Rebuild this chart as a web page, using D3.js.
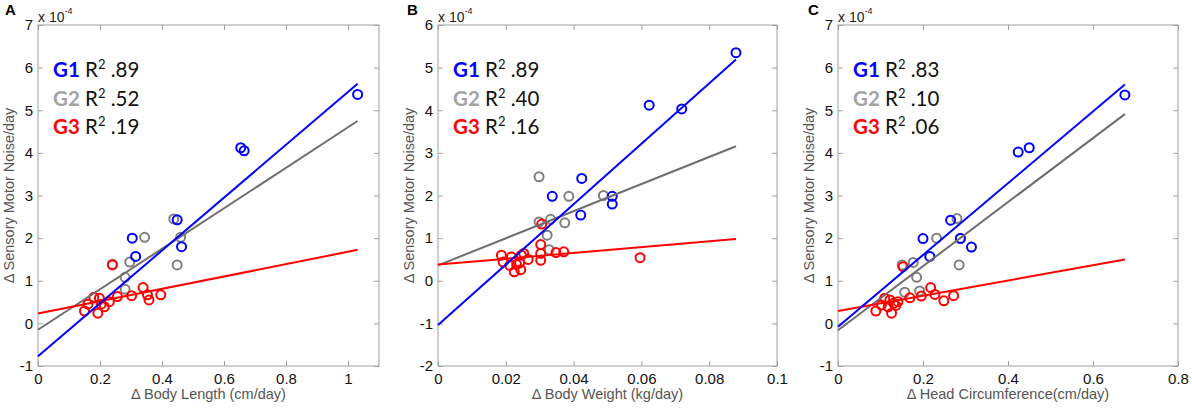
<!DOCTYPE html>
<meta charset="utf-8">
<style>
  body { margin: 0; background: #fff; }
  text { font-family: "Liberation Sans", Arial, sans-serif; }
  .legend text { font-family: Lato, "Liberation Sans", sans-serif; }
</style>
<body>
<script src="https://d3js.org/d3.v7.min.js"></script>
<script>
// ---- data (y values in units of 1e-4) ----
var groupNames = ["G1", "G2", "G3"];

// A: body length
var a_g1 = [[0.304,2.00],[0.315,1.57],[0.449,2.43],[0.463,1.80],[0.654,4.12],[0.665,4.05],[1.031,5.37]];
var a_g2 = [[0.438,2.45],[0.344,2.02],[0.460,2.02],[0.449,1.37],[0.296,1.44],[0.240,1.39],[0.281,1.08],[0.281,0.80]];
var a_g3 = [[0.240,1.37],[0.150,0.29],[0.161,0.45],[0.180,0.61],[0.193,0.24],[0.198,0.59],[0.204,0.45],[0.214,0.39],
            [0.230,0.51],[0.256,0.63],[0.302,0.65],[0.339,0.84],[0.353,0.67],[0.358,0.55],[0.396,0.67]];
var a_fit = [[-0.77, 6.20], [-0.15, 4.75], [0.23, 1.45]];   // intercept, slope
var a_r2 = [".89", ".52", ".19"];
var a_xticks = [0, 0.2, 0.4, 0.6, 0.8, 1];
var a_yticks = [-1, 0, 1, 2, 3, 4, 5, 6, 7];

// B: body weight
var b_g1 = [[0.0879,5.35],[0.0623,4.12],[0.0719,4.03],[0.0424,2.40],[0.0337,1.98],[0.0514,1.98],[0.0514,1.80],[0.0421,1.54]];
var b_g2 = [[0.0298,2.44],[0.0386,1.98],[0.0488,2.00],[0.0298,1.38],[0.0332,1.44],[0.0374,1.36],[0.0322,1.07],[0.0328,0.73]];
var b_g3 = [[0.0306,1.33],[0.0303,0.85],[0.0303,0.64],[0.0303,0.48],[0.0348,0.66],[0.0371,0.68],[0.0596,0.54],
            [0.0187,0.60],[0.0192,0.44],[0.0217,0.56],[0.0212,0.36],[0.0225,0.21],[0.0246,0.60],[0.0241,0.42],
            [0.0232,0.38],[0.0244,0.26],[0.0266,0.50],[0.0253,0.64]];
var b_fit = [[-1.04, 70.9], [0.36, 31.8], [0.38, 6.8]];
var b_r2 = [".89", ".40", ".16"];
var b_xticks = [0, 0.02, 0.04, 0.06, 0.08, 0.1];
var b_yticks = [-2, -1, 0, 1, 2, 3, 4, 5, 6];

// C: head circumference
var c_g1 = [[0.675,5.36],[0.424,4.02],[0.450,4.12],[0.200,1.99],[0.216,1.57],[0.265,2.42],[0.288,1.99],[0.314,1.79]];
var c_g2 = [[0.280,2.46],[0.232,2.00],[0.288,2.00],[0.285,1.37],[0.177,1.43],[0.151,1.37],[0.185,1.08],[0.157,0.73],[0.192,0.76]];
var c_g3 = [[0.153,1.33],[0.089,0.29],[0.102,0.43],[0.110,0.59],[0.122,0.55],[0.126,0.24],[0.118,0.39],[0.131,0.47],
            [0.141,0.51],[0.136,0.42],[0.169,0.60],[0.196,0.64],[0.218,0.84],[0.228,0.68],[0.249,0.53],[0.272,0.65]];
var c_fit = [[-0.08, 8.42], [-0.16, 7.51], [0.29, 1.79]];
var c_r2 = [".83", ".10", ".06"];
var c_xticks = [0, 0.2, 0.4, 0.6, 0.8];
var c_yticks = [-1, 0, 1, 2, 3, 4, 5, 6, 7];

// ---- styles / layout ----
var dotColors = ["#0000ff", "#808080", "#ff0000"];
var lineColors = ["#0000ff", "#6e6e6e", "#ff0000"];
var legendColors = ["#0000ff", "#a3a3a3", "#ff0000"];

var panels = [
  {letter: "A", left: 38, right: 379, xDomain: [0, 1.1], yDomain: [-1, 7],
   groups: [a_g1, a_g2, a_g3], fit: a_fit, r2: a_r2, xticks: a_xticks, yticks: a_yticks,
   xlabel: "\u0394 Body Length (cm/day)"},
  {letter: "B", left: 438, right: 777, xDomain: [0, 0.1], yDomain: [-2, 6],
   groups: [b_g1, b_g2, b_g3], fit: b_fit, r2: b_r2, xticks: b_xticks, yticks: b_yticks,
   xlabel: "\u0394 Body Weight (kg/day)"},
  {letter: "C", left: 838, right: 1178, xDomain: [0, 0.8], yDomain: [-1, 7],
   groups: [c_g1, c_g2, c_g3], fit: c_fit, r2: c_r2, xticks: c_xticks, yticks: c_yticks,
   xlabel: "\u0394 Head Circumference(cm/day)"}
];
var plotTop = 25, plotBottom = 366;

var svg = d3.select("body").append("svg")
    .attr("width", 1192)
    .attr("height", 408);

var fmt = function(v) { return d3.format("~g")(v).replace("\u2212", "-"); };

panels.forEach(function(p) {
  var x = d3.scaleLinear().domain(p.xDomain).range([p.left, p.right]);
  var y = d3.scaleLinear().domain(p.yDomain).range([plotBottom, plotTop]);
  var g = svg.append("g");

  // box
  g.append("rect")
    .attr("x", p.left).attr("y", plotTop)
    .attr("width", p.right - p.left).attr("height", plotBottom - plotTop)
    .attr("fill", "none").attr("stroke", "#a0a0a0");

  // inward ticks on all four sides
  var axes = [
    d3.axisBottom(x).tickValues(p.xticks).tickSize(-5).tickFormat(fmt),
    d3.axisTop(x).tickValues(p.xticks).tickSize(-5).tickFormat(""),
    d3.axisLeft(y).tickValues(p.yticks).tickSize(-5).tickFormat(fmt),
    d3.axisRight(y).tickValues(p.yticks).tickSize(-5).tickFormat("")
  ];
  var shifts = [[0, plotBottom], [0, plotTop], [p.left, 0], [p.right, 0]];
  axes.forEach(function(ax, i) {
    var a = g.append("g").attr("transform", "translate(" + shifts[i] + ")").call(ax);
    a.select(".domain").remove();
    a.selectAll("line").attr("stroke", "#a0a0a0");
    a.selectAll("text").attr("fill", "#111").style("font-size", "15px")
      .style("font-family", "'Liberation Sans', Arial, sans-serif");
    if (i === 0) a.selectAll("text").attr("y", 7);
    if (i === 2) a.selectAll("text").attr("x", -5);
  });

  // exponent label
  var ex = g.append("text").attr("x", p.left).attr("y", plotTop - 3)
    .style("font-size", "14px").attr("fill", "#222");
  ex.append("tspan").text("x 10");
  ex.append("tspan").attr("dy", -8).style("font-size", "9px").text("-4");

  // panel letter
  g.append("text").attr("x", p.left - 33 + (p.letter === "A" ? 0 : p.letter === "B" ? 2 : 3))
    .attr("y", 15).style("font-size", "15px").style("font-weight", "bold").text(p.letter);

  // axis labels
  g.append("text").attr("x", (p.left + p.right) / 2).attr("y", plotBottom + 33)
    .attr("text-anchor", "middle").style("font-size", "14.5px").attr("fill", "#555")
    .text(p.xlabel);
  g.append("text")
    .attr("transform", "translate(" + (p.left - 24) + "," + ((plotTop + plotBottom) / 2) + ") rotate(-90)")
    .attr("text-anchor", "middle").style("font-size", "14.5px").attr("fill", "#555")
    .text("\u0394 Sensory Motor Noise/day");

  // points: gray, blue, red
  [1, 0, 2].forEach(function(k) {
    g.append("g").selectAll("circle").data(p.groups[k]).enter().append("circle")
      .attr("cx", function(d) { return x(d[0]); })
      .attr("cy", function(d) { return y(d[1]); })
      .attr("r", 4.5)
      .attr("fill", "none")
      .attr("stroke", dotColors[k])
      .attr("stroke-width", 2);
  });

  // fitted lines from 0 to largest x
  var xmax = d3.max(p.groups, function(gr) { return d3.max(gr, function(d) { return d[0]; }); });
  [1, 2, 0].forEach(function(k) {
    var f = p.fit[k];
    g.append("line")
      .attr("x1", x(0)).attr("y1", y(f[0]))
      .attr("x2", x(xmax)).attr("y2", y(f[0] + f[1] * xmax))
      .attr("stroke", lineColors[k]).attr("stroke-width", 2);
  });

  // legend
  var lg = g.append("g").attr("class", "legend");
  groupNames.forEach(function(name, k) {
    var t = lg.append("text").attr("x", p.left + 15).attr("y", plotTop + 52 + k * 28.5)
      .style("font-size", "20.5px");
    t.append("tspan").style("font-weight", "bold").attr("fill", legendColors[k]).text(name);
    t.append("tspan").attr("fill", "#111").text(" R");
    t.append("tspan").attr("fill", "#111").attr("dy", -8).style("font-size", "13px").text("2");
    t.append("tspan").attr("fill", "#111").attr("dy", 8).text(" " + p.r2[k]);
  });
});
</script>
</body>
